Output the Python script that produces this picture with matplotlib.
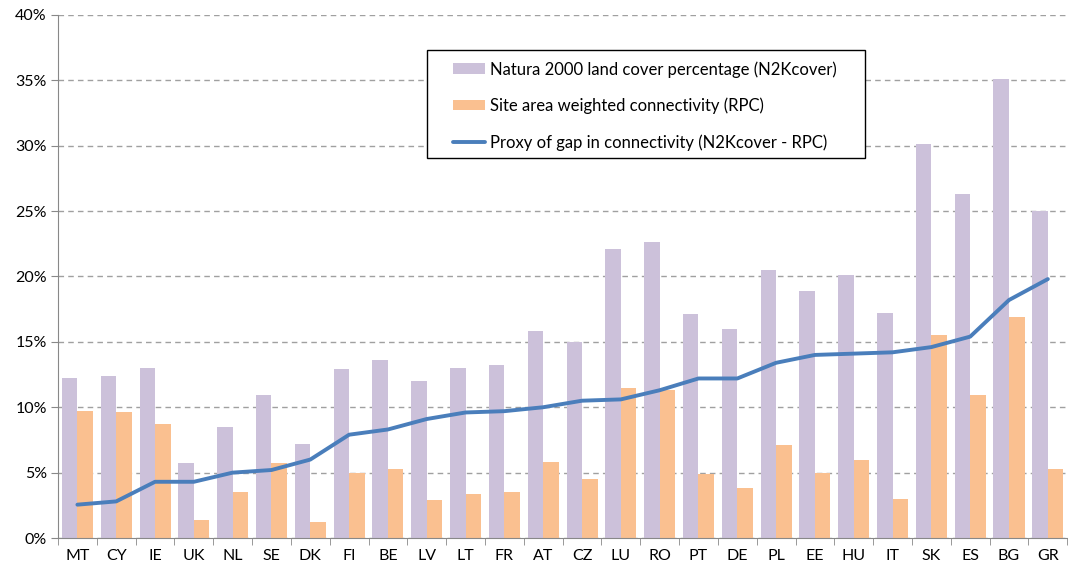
import numpy as np
import matplotlib.pyplot as plt
from matplotlib.patches import Rectangle
from matplotlib.ticker import FuncFormatter, FixedLocator

countries = ["MT", "CY", "IE", "UK", "NL", "SE", "DK", "FI", "BE", "LV", "LT", "FR", "AT",
             "CZ", "LU", "RO", "PT", "DE", "PL", "EE", "HU", "IT", "SK", "ES", "BG", "GR"]
n2k_cover = [12.2, 12.4, 13.0, 5.7, 8.5, 10.9, 7.2, 12.9, 13.6, 12.0, 13.0, 13.2, 15.8,
             15.0, 22.1, 22.6, 17.1, 16.0, 20.5, 18.9, 20.1, 17.2, 30.1, 26.3, 35.1, 25.0]
rpc = [9.7, 9.6, 8.7, 1.4, 3.5, 5.7, 1.2, 5.0, 5.3, 2.9, 3.4, 3.5, 5.8,
       4.5, 11.5, 11.3, 4.9, 3.8, 7.1, 5.0, 6.0, 3.0, 15.5, 10.9, 16.9, 5.3]
gap = [2.55, 2.8, 4.3, 4.3, 5.0, 5.2, 6.0, 7.9, 8.3, 9.1, 9.6, 9.7, 10.0,
       10.5, 10.6, 11.3, 12.2, 12.2, 13.4, 14.0, 14.1, 14.2, 14.6, 15.4, 18.2, 19.8]

plt.rcParams['font.family'] = ['Lato', 'DejaVu Sans']

fig = plt.figure(figsize=(10.68, 5.74), dpi=100)
ax = fig.add_axes([0.0543, 0.0627, 0.945, 0.9113])

x = np.arange(len(countries))
w = 0.4
b1 = ax.bar(x - w / 2, n2k_cover, width=w, color="#CCC1DA", zorder=2)
b2 = ax.bar(x + w / 2, rpc, width=w, color="#FAC090", zorder=2)
l1, = ax.plot(x, gap, color="#4A7EBB", lw=2.8, solid_capstyle="round", zorder=3)

ax.set_xlim(-0.5, len(countries) - 0.5)
ax.set_ylim(0, 40)
ax.set_yticks(np.arange(0, 41, 5))
ax.yaxis.set_major_formatter(FuncFormatter(lambda v, p: f"{v:.0f}%"))
ax.yaxis.grid(True, linestyle=(0, (4, 3)), color="#A0A0A0", lw=1.0, zorder=0)

ax.set_xticks(x)
ax.set_xticklabels(countries)
ax.tick_params(axis="x", which="major", length=0, pad=8, labelsize=11.5)
ax.xaxis.set_minor_locator(FixedLocator(np.arange(-0.5, len(countries), 1.0)))
ax.tick_params(axis="x", which="minor", length=5, color="#888888")
ax.tick_params(axis="y", length=5, color="#888888", labelsize=11.5, pad=3)

for s in ["top", "right"]:
    ax.spines[s].set_visible(False)
for s in ["left", "bottom"]:
    ax.spines[s].set_color("#888888")

# legend box drawn separately so the padding matches
ax.add_patch(Rectangle((0.3653, 0.7266), 0.4347, 0.2064, transform=ax.transAxes,
                       facecolor="white", edgecolor="black", lw=1.0, zorder=4))
leg = ax.legend([b1, b2, l1],
                ["Natura 2000 land cover percentage (N2Kcover)",
                 "Site area weighted connectivity (RPC)",
                 "Proxy of gap in connectivity (N2Kcover - RPC)"],
                loc="upper left", bbox_to_anchor=(0.391, 0.912), fontsize=12,
                frameon=False, handlelength=1.95, handleheight=0.6,
                labelspacing=1.2, borderpad=0, borderaxespad=0, handletextpad=0.3)
leg.set_zorder(5)

fig.savefig("out.png", dpi=100)
